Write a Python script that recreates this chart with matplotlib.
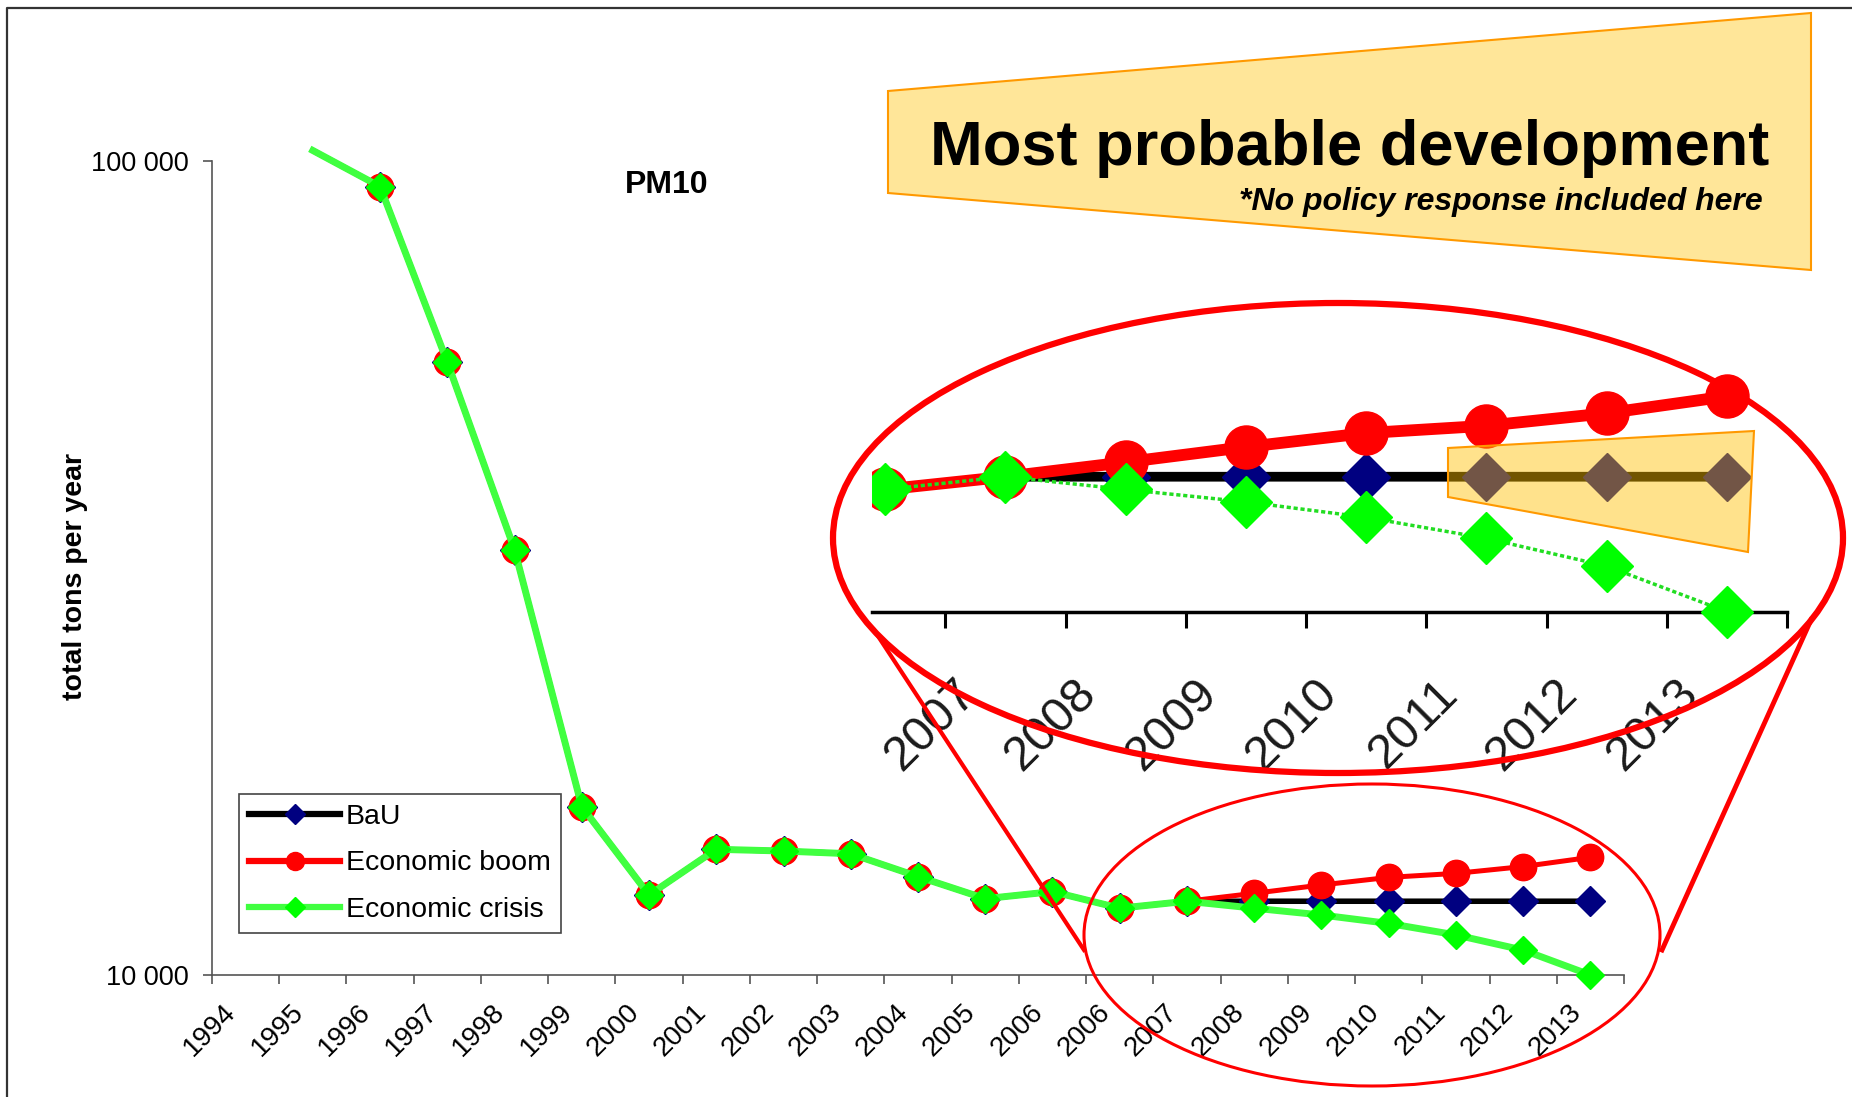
import numpy as np
import matplotlib
matplotlib.use('Agg')
import matplotlib.pyplot as plt
from matplotlib.lines import Line2D
from matplotlib.patches import Ellipse, Polygon
from matplotlib.ticker import NullLocator

plt.rcParams['font.family'] = ['Liberation Sans', 'DejaVu Sans']

# PM10 emissions, total tons per year
years = ['1994', '1995', '1996', '1997', '1998', '1999', '2000', '2001', '2002',
         '2003', '2004', '2005', '2006', '2006', '2007', '2008', '2009', '2010',
         '2011', '2012', '2013']
bau = [np.nan, 103000, 93000, 56600, 33300, 16100, 12540, 14270, 14200, 14090,
       13210, 12410, 12660, 12080, 12320, 12320, 12320, 12320, 12320, 12320, 12320]
boom = [np.nan, 103000, 93000, 56600, 33300, 16100, 12540, 14270, 14200, 14090,
        13210, 12410, 12660, 12080, 12320, 12600, 12900, 13180, 13330, 13590, 13950]
crisis = [np.nan, 103000, 93000, 56600, 33300, 16100, 12540, 14270, 14200, 14090,
          13210, 12410, 12660, 12080, 12320, 12080, 11850, 11570, 11200, 10730, 10000]

W, H = 1852, 1097
fig = plt.figure(figsize=(W / 100, H / 100), dpi=100)


def box(left, top, right, bottom):
    # pixel box -> figure fraction
    return [left / W, 1 - bottom / H, (right - left) / W, (bottom - top) / H]


x = np.arange(len(years))

# ---- main chart
ax = fig.add_axes(box(212, 143.7, 1624, 975))
ax.set_yscale('log')
ax.set_ylim(1e4, 1.05e5)
ax.set_xlim(-0.5, len(years) - 0.5)
ax.patch.set_alpha(0)
for s in ['top', 'right']:
    ax.spines[s].set_visible(False)
for s in ['left', 'bottom']:
    ax.spines[s].set_color('#555555')
    ax.spines[s].set_linewidth(1.2)
ax.spines['left'].set_bounds(1e4, 1e5)
ax.set_yticks([1e4, 1e5])
ax.set_yticklabels(['10 000', '100 000'])
ax.yaxis.set_minor_locator(NullLocator())
ax.tick_params(axis='y', length=6.5, width=1.2, color='#555555', labelsize=19.5, pad=10)

# tick marks between categories, labels slightly left of the category centre
ax.set_xticks(np.arange(-0.5, len(years), 1))
ax.set_xticklabels([])
ax.set_xticks(x - 0.2, minor=True)
ax.set_xticklabels(years, minor=True, rotation=45, ha='right', va='center',
                   rotation_mode='anchor')
ax.tick_params(axis='x', which='major', length=6.5, width=1.2, color='#555555')
ax.tick_params(axis='x', which='minor', length=0, labelsize=20, pad=24)

mk = list(range(2, len(years)))
ax.plot(x, bau, color='black', lw=4, marker='D', ms=15, mfc='#000080', mec='#000080',
        markevery=mk, zorder=3, clip_on=False)
ax.plot(x, boom, color='red', lw=3.6, marker='o', ms=19, mfc='red', mec='red',
        markevery=mk, zorder=4, clip_on=False)
ax.plot(x, crisis, color='#40FF40', lw=5, marker='D', ms=14, mfc='#00FF00', mec='#00FF00',
        markevery=mk, zorder=5, clip_on=False)

handles = [
    Line2D([], [], color='black', lw=4.5, marker='D', ms=10, mfc='#000080', mec='#000080'),
    Line2D([], [], color='red', lw=4.5, marker='o', ms=13, mfc='red', mec='red'),
    Line2D([], [], color='#40FF40', lw=4.5, marker='D', ms=10, mfc='#00FF00', mec='#00FF00'),
]
leg = fig.legend(handles, ['BaU', 'Economic boom', 'Economic crisis'], loc='upper left',
                 bbox_to_anchor=(239 / W, 1 - 794 / H), borderaxespad=0, fontsize=20.5,
                 handlelength=3.2, handletextpad=0.2, labelspacing=0.72, borderpad=0.35,
                 fancybox=False, framealpha=1)
leg.get_frame().set_edgecolor('#444444')
leg.get_frame().set_linewidth(1.2)

# ---- magnified inset of 2006-2013
ins = fig.add_axes(box(872, 300, 1787, 650))
ins.set_yscale('log')
ins.set_ylim(10 ** (4 - 38.3 / 1490), 16190)
ins.set_xlim(12.89, len(years) - 0.5)
ins.patch.set_visible(False)
for s in ['top', 'right', 'left']:
    ins.spines[s].set_visible(False)
ins.spines['bottom'].set_position(('data', 1e4))
ins.spines['bottom'].set_linewidth(2.5)
ins.set_yticks([])
ins.yaxis.set_minor_locator(NullLocator())
ins.set_xticks(np.arange(13.5, len(years), 1))
ins.set_xticklabels([])
ins.set_xticks(x[14:] - 0.3, minor=True)
ins.set_xticklabels(years[14:], minor=True, rotation=45, ha='right', va='center',
                    rotation_mode='anchor', color='#1a1a1a')
ins.tick_params(axis='x', which='major', length=11.5, width=2.2, color='black')
ins.tick_params(axis='x', which='minor', length=0, labelsize=35, pad=54)
ins.plot(x[12:], bau[12:], color='black', lw=7, marker='D', ms=24, mfc='#000080',
         mec='#000080', zorder=3)
ins.plot(x[12:], boom[12:], color='red', lw=8.5, marker='o', ms=31, mfc='red', mec='red',
         zorder=4)
ins.plot(x[12:], crisis[12:], color='#22DD22', lw=2.5, ls=(0, (1.2, 0.8)), marker='D',
         ms=26, mfc='#00FF00', mec='#00FF00', zorder=5)

# ---- annotations in pixel coordinates
ov = fig.add_axes([0, 0, 1, 1])
ov.set_xlim(0, W)
ov.set_ylim(H, 0)
ov.axis('off')
ov.set_zorder(10)

ov.plot([7, 7, W], [H, 8, 8], color='#333333', lw=1.6)

ov.add_patch(Polygon([(1448, 448), (1754, 431), (1748, 552), (1448, 497)], closed=True,
                     facecolor=(1, 0.75, 0, 0.45), edgecolor='#FF9900', lw=1.5, zorder=1))
ov.add_patch(Polygon([(888, 91), (1811, 13), (1811, 270), (888, 193)], closed=True,
                     facecolor='#FFE699', edgecolor='#FF9900', lw=1.5, zorder=2))
ov.text(1350, 165, 'Most probable development', fontsize=45.5, fontweight='bold',
        ha='center', va='baseline', zorder=3)
ov.text(1763, 210, '*No policy response included here', fontsize=23,
        fontweight='bold', style='italic', ha='right', va='baseline', zorder=3)

ov.add_patch(Ellipse((1338, 538), 1010, 470, fill=False, edgecolor='red', lw=4.5, zorder=4))
ov.add_patch(Ellipse((1372, 935), 576, 302, fill=False, edgecolor='red', lw=2.2, zorder=4))
ov.plot([1084, 874], [950, 630], color='red', lw=3, zorder=4)
ov.plot([1662, 1811], [950, 620], color='red', lw=3.5, zorder=4)

ov.text(667, 185, 'PM10', fontsize=23, fontweight='bold', ha='center', va='center')
ov.text(75, 576, 'total tons per year', fontsize=20.5, fontweight='bold', rotation=90,
        ha='center', va='center')

fig.savefig('out.png', dpi=100)
